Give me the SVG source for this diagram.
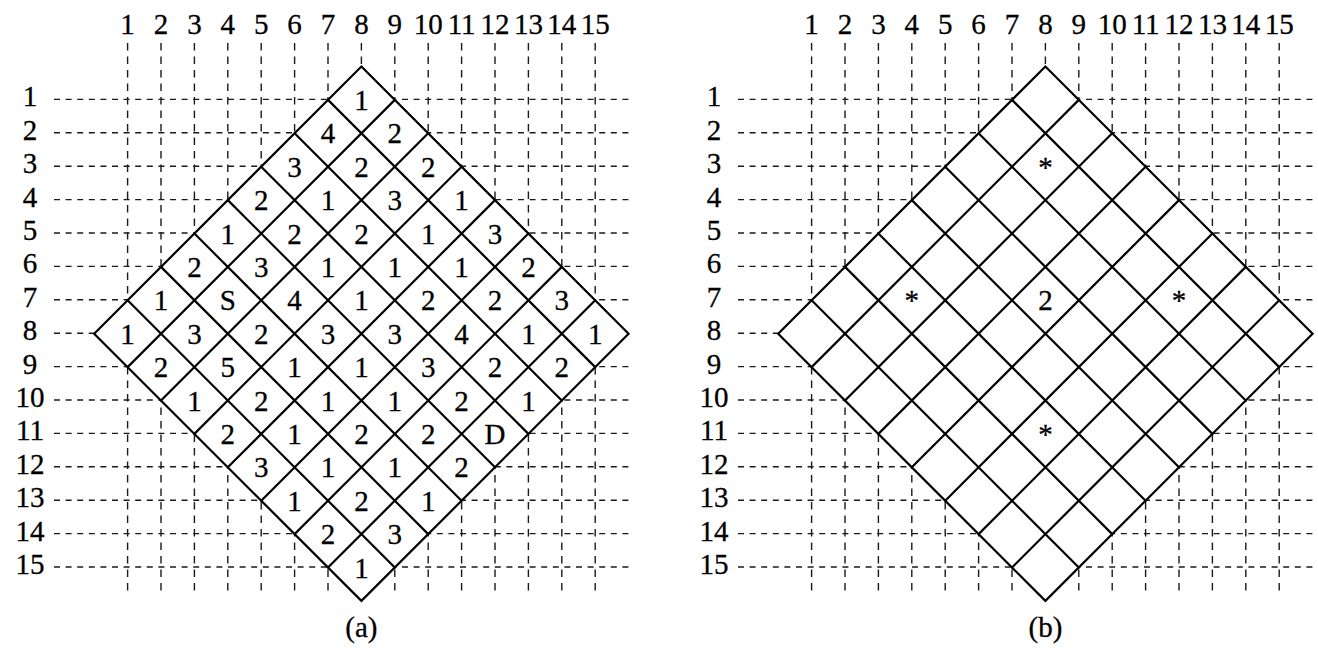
<svg xmlns="http://www.w3.org/2000/svg" xmlns:xlink="http://www.w3.org/1999/xlink" width="1318" height="659" viewBox="0 0 1318 659">
<style>
text{font-family:"Liberation Serif","Times New Roman",serif;font-size:29px;fill:#000;stroke:#000;stroke-width:0.3;text-anchor:middle}
.dh{stroke:#1a1a1a;stroke-width:1.4;stroke-dasharray:6 5.6;fill:none}
.dv{stroke:#1a1a1a;stroke-width:1.4;stroke-dasharray:7.5 6;fill:none}
.dl{stroke:#000;stroke-width:2.2;fill:none;stroke-linecap:round}
.bd{stroke:#000;stroke-width:2.2;fill:#fff;stroke-linejoin:miter}
</style>
<defs>
<g id="grid">
<g class="dv">
<line x1="127.6" y1="43" x2="127.6" y2="596"/>
<line x1="161.0" y1="43" x2="161.0" y2="596"/>
<line x1="194.4" y1="43" x2="194.4" y2="596"/>
<line x1="227.8" y1="43" x2="227.8" y2="596"/>
<line x1="261.2" y1="43" x2="261.2" y2="596"/>
<line x1="294.6" y1="43" x2="294.6" y2="596"/>
<line x1="328.0" y1="43" x2="328.0" y2="596"/>
<line x1="361.4" y1="43" x2="361.4" y2="596"/>
<line x1="394.8" y1="43" x2="394.8" y2="596"/>
<line x1="428.2" y1="43" x2="428.2" y2="596"/>
<line x1="461.6" y1="43" x2="461.6" y2="596"/>
<line x1="495.0" y1="43" x2="495.0" y2="596"/>
<line x1="528.4" y1="43" x2="528.4" y2="596"/>
<line x1="561.8" y1="43" x2="561.8" y2="596"/>
<line x1="595.2" y1="43" x2="595.2" y2="596"/>
</g>
<g class="dh">
<line x1="54" y1="99.4" x2="633" y2="99.4"/>
<line x1="54" y1="132.8" x2="633" y2="132.8"/>
<line x1="54" y1="166.2" x2="633" y2="166.2"/>
<line x1="54" y1="199.6" x2="633" y2="199.6"/>
<line x1="54" y1="233.0" x2="633" y2="233.0"/>
<line x1="54" y1="266.4" x2="633" y2="266.4"/>
<line x1="54" y1="299.8" x2="633" y2="299.8"/>
<line x1="54" y1="333.2" x2="633" y2="333.2"/>
<line x1="54" y1="366.6" x2="633" y2="366.6"/>
<line x1="54" y1="400.0" x2="633" y2="400.0"/>
<line x1="54" y1="433.4" x2="633" y2="433.4"/>
<line x1="54" y1="466.8" x2="633" y2="466.8"/>
<line x1="54" y1="500.2" x2="633" y2="500.2"/>
<line x1="54" y1="533.6" x2="633" y2="533.6"/>
<line x1="54" y1="567.0" x2="633" y2="567.0"/>
</g>
<g>
<text x="127.6" y="34.3">1</text>
<text x="161.0" y="34.3">2</text>
<text x="194.4" y="34.3">3</text>
<text x="227.8" y="34.3">4</text>
<text x="261.2" y="34.3">5</text>
<text x="294.6" y="34.3">6</text>
<text x="328.0" y="34.3">7</text>
<text x="361.4" y="34.3">8</text>
<text x="394.8" y="34.3">9</text>
<text x="428.2" y="34.3">10</text>
<text x="461.6" y="34.3">11</text>
<text x="495.0" y="34.3">12</text>
<text x="528.4" y="34.3">13</text>
<text x="561.8" y="34.3">14</text>
<text x="595.2" y="34.3">15</text>
<text x="30" y="106.4">1</text>
<text x="30" y="139.8">2</text>
<text x="30" y="173.2">3</text>
<text x="30" y="206.6">4</text>
<text x="30" y="240.0">5</text>
<text x="30" y="273.4">6</text>
<text x="30" y="306.8">7</text>
<text x="30" y="340.2">8</text>
<text x="30" y="373.6">9</text>
<text x="30" y="407.0">10</text>
<text x="30" y="440.4">11</text>
<text x="30" y="473.8">12</text>
<text x="30" y="507.2">13</text>
<text x="30" y="540.6">14</text>
<text x="30" y="574.0">15</text>
</g>
</g>
<g id="diamond">
<polygon class="bd" points="361.4,66.5 628.6,333.7 361.4,600.9 94.2,333.7"/>
<g class="dl">
<line x1="127.6" y1="367.1" x2="394.8" y2="99.9"/>
<line x1="161.0" y1="400.5" x2="428.2" y2="133.3"/>
<line x1="194.4" y1="433.9" x2="461.6" y2="166.7"/>
<line x1="227.8" y1="467.3" x2="495.0" y2="200.1"/>
<line x1="261.2" y1="500.7" x2="528.4" y2="233.5"/>
<line x1="294.6" y1="534.1" x2="561.8" y2="266.9"/>
<line x1="328.0" y1="567.5" x2="595.2" y2="300.3"/>
<line x1="127.6" y1="300.3" x2="394.8" y2="567.5"/>
<line x1="161.0" y1="266.9" x2="428.2" y2="534.1"/>
<line x1="194.4" y1="233.5" x2="461.6" y2="500.7"/>
<line x1="227.8" y1="200.1" x2="495.0" y2="467.3"/>
<line x1="261.2" y1="166.7" x2="528.4" y2="433.9"/>
<line x1="294.6" y1="133.3" x2="561.8" y2="400.5"/>
<line x1="328.0" y1="99.9" x2="595.2" y2="367.1"/>
</g>
</g>
</defs>
<g id="panel-a">
<use xlink:href="#grid" href="#grid"/>
<use xlink:href="#diamond" href="#diamond"/>
<g id="cells-a">
<text x="361.4" y="109.9">1</text>
<text x="328.0" y="143.3">4</text><text x="394.8" y="143.3">2</text>
<text x="294.6" y="176.7">3</text><text x="361.4" y="176.7">2</text><text x="428.2" y="176.7">2</text>
<text x="261.2" y="210.1">2</text><text x="328.0" y="210.1">1</text><text x="394.8" y="210.1">3</text><text x="461.6" y="210.1">1</text>
<text x="227.8" y="243.5">1</text><text x="294.6" y="243.5">2</text><text x="361.4" y="243.5">2</text><text x="428.2" y="243.5">1</text><text x="495.0" y="243.5">3</text>
<text x="194.4" y="276.9">2</text><text x="261.2" y="276.9">3</text><text x="328.0" y="276.9">1</text><text x="394.8" y="276.9">1</text><text x="461.6" y="276.9">1</text><text x="528.4" y="276.9">2</text>
<text x="161.0" y="310.3">1</text><text x="227.8" y="310.3">S</text><text x="294.6" y="310.3">4</text><text x="361.4" y="310.3">1</text><text x="428.2" y="310.3">2</text><text x="495.0" y="310.3">2</text><text x="561.8" y="310.3">3</text>
<text x="127.6" y="343.7">1</text><text x="194.4" y="343.7">3</text><text x="261.2" y="343.7">2</text><text x="328.0" y="343.7">3</text><text x="394.8" y="343.7">3</text><text x="461.6" y="343.7">4</text><text x="528.4" y="343.7">1</text><text x="595.2" y="343.7">1</text>
<text x="161.0" y="377.1">2</text><text x="227.8" y="377.1">5</text><text x="294.6" y="377.1">1</text><text x="361.4" y="377.1">1</text><text x="428.2" y="377.1">3</text><text x="495.0" y="377.1">2</text><text x="561.8" y="377.1">2</text>
<text x="194.4" y="410.5">1</text><text x="261.2" y="410.5">2</text><text x="328.0" y="410.5">1</text><text x="394.8" y="410.5">1</text><text x="461.6" y="410.5">2</text><text x="528.4" y="410.5">1</text>
<text x="227.8" y="443.9">2</text><text x="294.6" y="443.9">1</text><text x="361.4" y="443.9">2</text><text x="428.2" y="443.9">2</text><text x="495.0" y="443.9">D</text>
<text x="261.2" y="477.3">3</text><text x="328.0" y="477.3">1</text><text x="394.8" y="477.3">1</text><text x="461.6" y="477.3">2</text>
<text x="294.6" y="510.7">1</text><text x="361.4" y="510.7">2</text><text x="428.2" y="510.7">1</text>
<text x="328.0" y="544.1">2</text><text x="394.8" y="544.1">3</text>
<text x="361.4" y="577.5">1</text>
</g>
<text x="361.4" y="637">(a)</text>
</g>
<g id="panel-b" transform="translate(684,0)">
<use xlink:href="#grid" href="#grid"/>
<use xlink:href="#diamond" href="#diamond"/>
<g id="cells-b">
<text x="361.4" y="176.7">*</text>
<text x="227.8" y="310.3">*</text>
<text x="361.4" y="310.3">2</text>
<text x="495.0" y="310.3">*</text>
<text x="361.4" y="443.9">*</text>
</g>
<text x="361.4" y="637">(b)</text>
</g>
</svg>
